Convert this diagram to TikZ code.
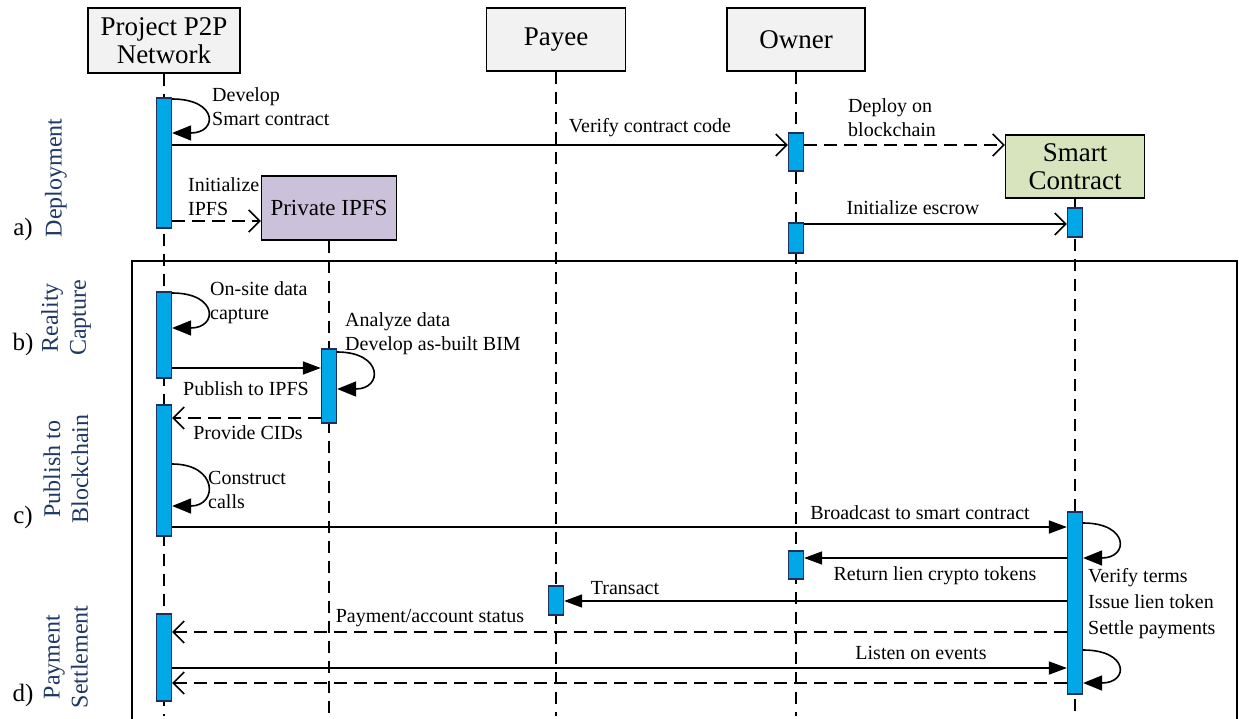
\documentclass[tikz,border=0pt]{standalone}
\usepackage{fontspec}
\setmainfont{Liberation Serif}
\usetikzlibrary{arrows.meta}
\definecolor{actfill}{HTML}{00A8E8}
\definecolor{actdraw}{HTML}{1F2F5F}
\definecolor{hdrfill}{HTML}{F2F2F2}
\definecolor{ipfsfill}{HTML}{CCC1DA}
\definecolor{scfill}{HTML}{D7E4BD}
\definecolor{sidecol}{HTML}{1F3864}
\begin{document}
\begin{tikzpicture}[x=1pt,y=-1pt,
  hdr/.style={draw=black, line width=1.4pt, fill=hdrfill, align=center, font=\fontsize{27}{28}\selectfont, inner sep=0pt},
  act/.style={draw=actdraw, line width=1.2pt, fill=actfill, minimum width=15pt, inner sep=0pt},
  lifeline/.style={line width=1.6pt, dash pattern=on 12pt off 8pt},
  msg/.style={line width=1.6pt, -{Triangle[length=18pt,width=13pt]}},
  msgo/.style={line width=1.6pt, -{Straight Barb[length=11pt,width=22pt]}},
  ret/.style={msgo, dash pattern=on 13pt off 7pt},
  selfloop/.style={line width=1.6pt, -{Triangle[length=19pt,width=15pt]}},
  lbl/.style={font=\fontsize{20}{24}\selectfont, inner sep=0pt, align=left},
  side/.style={font=\fontsize{24}{28}\selectfont, text=sidecol, align=center, rotate=90, inner sep=0pt},
  tag/.style={font=\fontsize{25}{28}\selectfont, inner sep=0pt},
]
\useasboundingbox (0,0) rectangle (1239,719);
\fill[white] (0,0) rectangle (1239,719);

% frame
\draw[line width=1.4pt] (132,719) -- (132,261) -- (1237,261) -- (1237,719);

% headers
\node[hdr, minimum width=152pt, minimum height=65pt] (p2p) at (164,40.5) {Project P2P\\Network};
\node[hdr, minimum width=139pt, minimum height=63pt] (payee) at (556,39.5) {Payee};
\node[hdr, minimum width=138pt, minimum height=63pt] (owner) at (796,39.5) {Owner};
\node[hdr, fill=ipfsfill, minimum width=135pt, minimum height=64pt, font=\fontsize{23}{26}\selectfont] (ipfs) at (329,208) {Private IPFS};
\node[hdr, fill=scfill, minimum width=139pt, minimum height=63pt] (sc) at (1075,166.5) {Smart\\Contract};

% lifelines
\coordinate (p2pend) at (164,716);
\coordinate (ipfsend) at (329,716);
\coordinate (payeeend) at (556,716);
\coordinate (ownerend) at (796,716);
\coordinate (scend) at (1075,716);
\draw[lifeline] (p2p.south) -- (p2pend);
\draw[lifeline] (ipfs.south) -- (ipfsend);
\draw[lifeline] (payee.south) -- (payeeend);
\draw[lifeline] (owner.south) -- (ownerend);
\draw[lifeline] (sc.south) -- (scend);

% activation bars
\node[act, minimum height=130pt] (a1) at (164,163) {};
\node[act, minimum height=86pt] (a2) at (164,335) {};
\node[act, minimum height=131pt] (a3) at (164,470.5) {};
\node[act, minimum height=87pt] (a4) at (164,657.5) {};
\node[act, minimum height=74pt] (i1) at (329,386) {};
\node[act, minimum height=38pt] (o1) at (796,152) {};
\node[act, minimum height=30pt] (o2) at (796,238) {};
\node[act, minimum height=28pt] (o3) at (796,565) {};
\node[act, minimum height=29pt] (y1) at (556,600.5) {};
\node[act, minimum height=29pt] (s1) at (1075,222.5) {};
\node[act, minimum height=182pt] (s2) at (1075,603) {};

% side labels
\node[tag] (ta) at (23,229) {a)};
\node[side] (sa) at (56,178) {Deployment};
\node[tag] (tb) at (23,344) {b)};
\node[side] (sb) at (66,318) {Reality\\Capture};
\node[tag] (tc) at (23,517) {c)};
\node[side] (scl) at (66,469) {Publish to\\Blockchain};
\node[tag] (td) at (23,695) {d)};
\node[side] (sd) at (66,657) {Payment\\Settlement};

% deployment messages
\draw[selfloop] (a1.east |- 0,99) .. controls +(46,0) and +(46,0) .. (a1.east |- 0,133);
\node[lbl, anchor=west] (l1) at (212,107) {Develop\\Smart contract};
\draw[msgo] (a1.east |- 0,145) -- (o1.west |- 0,145);
\node[lbl] (l2) at (650,128) {Verify contract code};
\draw[ret] (o1.east |- 0,145) -- (sc.west |- 0,145);
\node[lbl, anchor=west] (l3) at (848,118) {Deploy on\\blockchain};
\draw[ret] (a1.east |- 0,221) -- (ipfs.west |- 0,221);
\node[lbl, anchor=west] (l4) at (188,197) {Initialize\\IPFS};
\draw[msgo] (o2.east |- 0,224) -- (s1.west |- 0,224);
\node[lbl] (l5) at (913,208) {Initialize escrow};

% reality capture
\draw[selfloop] (a2.east |- 0,293) .. controls +(46,0) and +(46,0) .. (a2.east |- 0,328);
\node[lbl, anchor=west] (l6) at (210,303) {On-site data\\capture};
\draw[msg] (a2.east |- 0,368) -- (i1.west |- 0,368);
\node[lbl] (l7) at (246,389) {Publish to IPFS};
\draw[selfloop] (i1.east |- 0,352) .. controls +(46,0) and +(46,0) .. (i1.east |- 0,389);
\node[lbl, anchor=west] (l8) at (345,334) {Analyze data\\Develop as-built BIM};
\draw[ret] (i1.west |- 0,418) -- (a3.east |- 0,418);
\node[lbl] (l9) at (248,433) {Provide CIDs};

% publish to blockchain
\draw[selfloop] (a3.east |- 0,464) .. controls +(46,0) and +(46,0) .. (a3.east |- 0,506);
\node[lbl, anchor=west] (l10) at (208,490) {Construct\\calls};
\draw[msg] (a3.east |- 0,527) -- (s2.west |- 0,527);
\node[lbl] (l11) at (920,513) {Broadcast to smart contract};
\draw[selfloop] (s2.east |- 0,523) .. controls +(46,0) and +(46,0) .. (s2.east |- 0,558);
\draw[msg] (s2.west |- 0,558) -- (o3.east |- 0,558);
\node[lbl] (l12) at (935,576) {Return lien crypto tokens};

% payment settlement
\draw[msg] (s2.west |- 0,601) -- (y1.east |- 0,601);
\node[lbl] (l13) at (625,588) {Transact};
\draw[ret] (s2.west |- 0,632) -- (a4.east |- 0,632);
\node[lbl] (l14) at (430,618) {Payment/account status};
\draw[msg] (a4.east |- 0,668) -- (s2.west |- 0,668);
\node[lbl] (l15) at (921,653) {Listen on events};
\draw[ret] (s2.west |- 0,683) -- (a4.east |- 0,683);
\draw[selfloop] (s2.east |- 0,650) .. controls +(46,0) and +(46,0) .. (s2.east |- 0,683);
\node[lbl, anchor=west, font=\fontsize{20}{26}\selectfont] (l16) at (1088,604) {Verify terms\\Issue lien token\\Settle payments};
\end{tikzpicture}
\end{document}
